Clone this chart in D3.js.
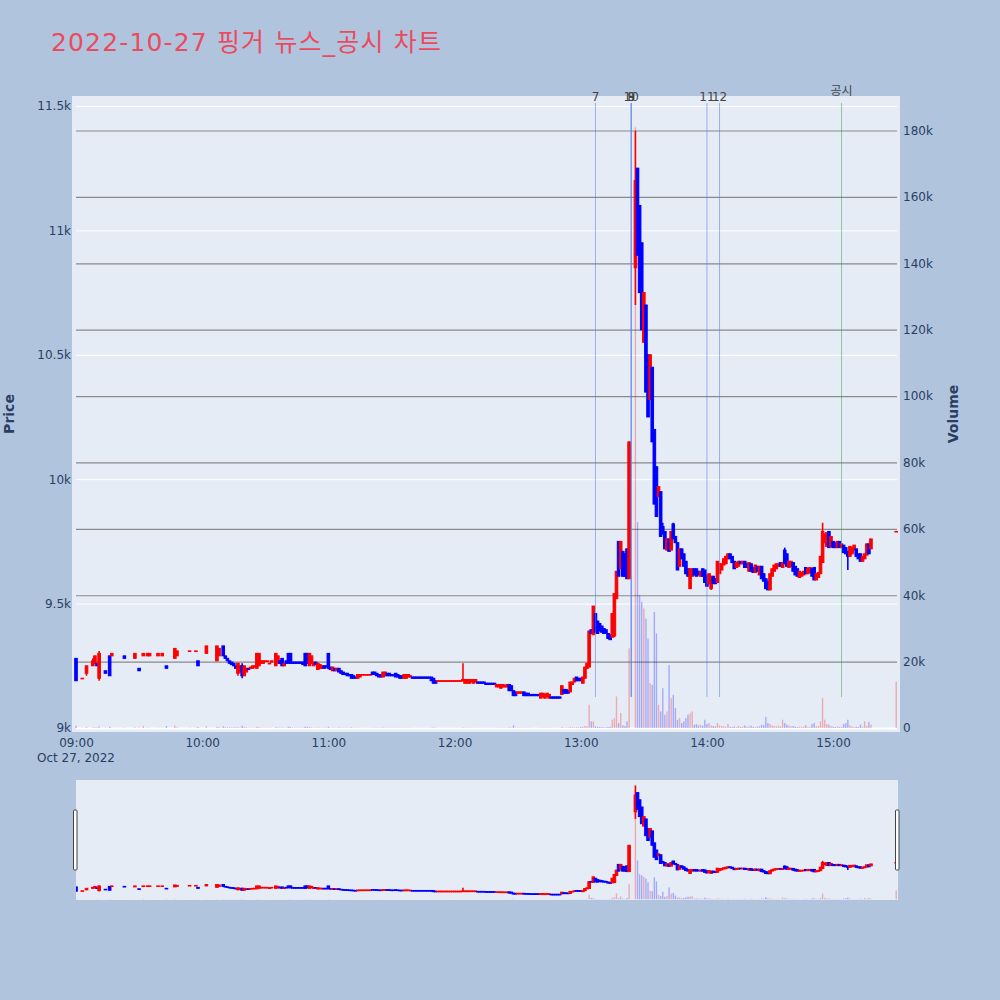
<!DOCTYPE html>
<html><head><meta charset="utf-8">
<script src="https://cdn.jsdelivr.net/npm/d3@7"></script>
<style>body{margin:0;background:#B0C4DE;}svg{display:block}</style>
</head><body>
<svg id="c" width="1000" height="1000"></svg>
<script>
// [time, open, high, low, close, volume]
const bars09 = [
["09:00",9280,9280,9190,9190,700],["09:03",9200,9200,9200,9200,100],["09:05",9220,9250,9210,9250,300],
["09:08",9250,9280,9250,9270,200],["09:09",9260,9290,9260,9290,200],["09:10",9260,9260,9250,9250,150],
["09:11",9200,9310,9190,9300,500],["09:14",9230,9230,9220,9220,100],["09:16",9290,9290,9210,9210,400],
["09:17",9290,9300,9290,9300,100],["09:23",9290,9290,9280,9280,100],["09:28",9280,9300,9280,9300,200],
["09:30",9240,9240,9230,9230,100],["09:32",9290,9300,9290,9300,600],["09:34",9290,9300,9290,9300,100],
["09:35",9290,9300,9290,9300,100],["09:39",9290,9300,9290,9300,100],["09:41",9290,9300,9290,9300,100],
["09:43",9250,9250,9240,9240,600],["09:47",9280,9320,9280,9320,700],["09:48",9290,9310,9290,9310,200],
["09:54",9310,9310,9310,9310,100],["09:57",9310,9310,9310,9310,100],["09:58",9270,9270,9250,9250,300]
];
const bars10 = [
["10:02",9300,9330,9300,9330,500],["10:07",9270,9330,9270,9330,400],["10:08",9290,9320,9290,9320,300],
["10:10",9330,9330,9290,9290,500],["10:11",9290,9290,9280,9280,200],["10:12",9280,9280,9270,9270,200],
["10:13",9270,9270,9260,9260,200],["10:14",9265,9265,9255,9255,200],["10:15",9260,9260,9250,9250,200],
["10:16",9250,9250,9240,9240,200],["10:17",9220,9260,9210,9260,300],["10:18",9225,9250,9225,9250,200],
["10:19",9250,9260,9200,9210,700],["10:20",9210,9250,9210,9250,300],["10:21",9225,9240,9225,9240,200],
["10:22",9240,9240,9235,9235,100],["10:23",9240,9245,9240,9245,100],["10:24",9240,9250,9240,9250,100],
["10:25",9245,9250,9245,9250,100],["10:26",9240,9300,9240,9300,400],["10:27",9250,9300,9250,9300,300],
["10:28",9260,9270,9260,9270,100],["10:29",9260,9270,9260,9270,100],["10:30",9270,9270,9270,9270,100],
["10:31",9270,9270,9270,9270,100],["10:32",9260,9260,9260,9260,100],["10:33",9265,9270,9265,9270,100],
["10:35",9250,9300,9250,9300,300],["10:36",9260,9290,9260,9290,200],["10:37",9270,9270,9260,9260,100],
["10:38",9280,9280,9250,9250,200],["10:39",9250,9260,9250,9260,100],["10:40",9270,9270,9260,9260,100],
["10:41",9300,9300,9260,9260,400],["10:42",9300,9300,9260,9260,300],["10:43",9265,9265,9260,9260,100],
["10:44",9265,9265,9260,9260,100],["10:45",9265,9265,9260,9260,100],["10:46",9265,9265,9260,9260,100],
["10:47",9265,9265,9260,9260,100],["10:48",9265,9265,9255,9255,100],["10:49",9300,9300,9250,9250,400],
["10:50",9300,9300,9260,9260,300],["10:51",9250,9300,9250,9300,400],["10:52",9260,9290,9260,9290,200],
["10:53",9250,9265,9250,9265,100],["10:54",9265,9265,9255,9255,100],["10:55",9235,9260,9235,9260,200],
["10:56",9240,9255,9240,9255,100],["10:57",9240,9250,9240,9250,100],["10:58",9250,9250,9240,9240,100],
["10:59",9250,9250,9245,9245,100]
];
const bars11 = [
["11:00",9300,9300,9240,9240,400],["11:01",9245,9245,9235,9235,100],["11:02",9230,9245,9230,9245,100],
["11:03",9240,9240,9230,9230,100],["11:04",9230,9240,9230,9240,100],["11:05",9240,9240,9225,9225,200],
["11:06",9230,9230,9220,9220,100],["11:07",9225,9225,9215,9215,100],["11:08",9220,9220,9215,9215,100],
["11:09",9220,9220,9210,9210,100],["11:10",9215,9215,9210,9210,100],["11:11",9215,9215,9200,9200,200],
["11:12",9210,9210,9200,9200,100],["11:13",9205,9205,9200,9200,100],["11:14",9200,9215,9200,9215,100],
["11:15",9205,9215,9205,9215,100],["11:16",9215,9215,9215,9215,50],["11:17",9215,9215,9215,9215,50],
["11:18",9215,9215,9215,9215,50],["11:19",9215,9215,9215,9215,50],["11:20",9215,9215,9215,9215,50],
["11:21",9225,9225,9215,9215,100],["11:22",9225,9225,9215,9215,100],["11:23",9220,9220,9210,9210,100],
["11:24",9215,9215,9205,9205,100],["11:25",9215,9215,9205,9205,100],["11:26",9205,9225,9205,9225,200],
["11:27",9210,9225,9210,9225,100],["11:28",9220,9220,9210,9210,100],["11:29",9220,9220,9210,9210,100],
["11:30",9215,9215,9210,9210,100],["11:31",9215,9215,9210,9210,100],["11:32",9220,9220,9205,9205,100],
["11:33",9215,9215,9205,9205,100],["11:34",9210,9210,9200,9200,100],["11:35",9210,9210,9200,9200,100],
["11:36",9200,9215,9200,9215,100],["11:37",9200,9215,9200,9215,100],["11:38",9205,9215,9205,9215,100],
["11:39",9205,9210,9205,9210,100],["11:40",9205,9205,9200,9200,50],["11:41",9205,9205,9200,9200,50],
["11:42",9205,9205,9200,9200,50],["11:43",9205,9205,9200,9200,50],["11:44",9205,9205,9200,9200,50],
["11:45",9205,9205,9200,9200,50],["11:46",9205,9205,9200,9200,50],["11:47",9205,9205,9200,9200,50],
["11:48",9205,9205,9200,9200,50],["11:49",9205,9205,9190,9190,100],["11:50",9200,9200,9180,9180,200],
["11:51",9190,9190,9180,9180,100],["11:52",9190,9190,9190,9190,50],["11:53",9190,9190,9190,9190,50],
["11:54",9190,9190,9190,9190,50],["11:55",9190,9190,9190,9190,50],["11:56",9190,9190,9190,9190,50],
["11:57",9190,9190,9190,9190,50],["11:58",9190,9190,9190,9190,50],["11:59",9190,9190,9190,9190,50]
];
const bars12 = [
["12:00",9190,9190,9190,9190,50],["12:01",9190,9190,9190,9190,50],["12:02",9190,9190,9190,9190,50],
["12:03",9190,9190,9190,9190,50],["12:04",9190,9260,9190,9195,200],["12:05",9180,9195,9180,9195,100],
["12:06",9180,9195,9180,9195,100],["12:07",9180,9195,9180,9195,100],["12:08",9185,9195,9185,9195,100],
["12:09",9180,9195,9180,9195,100],["12:10",9185,9195,9185,9195,100],["12:11",9185,9185,9180,9180,50],
["12:12",9185,9185,9180,9180,50],["12:13",9185,9185,9180,9180,50],["12:14",9185,9185,9180,9180,50],
["12:15",9180,9180,9175,9175,50],["12:16",9180,9180,9175,9175,50],["12:17",9180,9180,9175,9175,50],
["12:18",9180,9180,9175,9175,50],["12:19",9180,9180,9175,9175,50],["12:20",9165,9175,9165,9175,100],
["12:21",9165,9175,9165,9175,100],["12:22",9160,9175,9160,9175,100],["12:23",9165,9175,9165,9175,100],
["12:24",9165,9170,9165,9170,100],["12:25",9165,9175,9165,9175,100],["12:26",9175,9175,9150,9150,200],
["12:27",9170,9170,9150,9150,100],["12:28",9150,9150,9130,9130,800],["12:29",9145,9145,9130,9130,100],
["12:30",9140,9145,9140,9145,100],["12:31",9140,9145,9140,9145,100],["12:32",9140,9145,9140,9145,100],
["12:33",9145,9145,9130,9130,100],["12:34",9140,9140,9130,9130,100],["12:35",9140,9140,9130,9130,100],
["12:36",9135,9135,9130,9130,50],["12:37",9135,9135,9130,9130,50],["12:38",9135,9135,9130,9130,50],
["12:39",9135,9135,9130,9130,50],["12:40",9135,9135,9130,9130,50],["12:41",9120,9140,9120,9140,100],
["12:42",9125,9140,9125,9140,100],["12:43",9120,9135,9120,9135,100],["12:44",9125,9140,9125,9140,100],
["12:45",9120,9135,9120,9135,100],["12:46",9125,9125,9120,9120,50],["12:47",9125,9125,9120,9120,50],
["12:48",9125,9125,9120,9120,50],["12:49",9125,9125,9120,9120,50],["12:50",9125,9125,9120,9120,50],
["12:51",9135,9170,9135,9170,300],["12:52",9155,9155,9140,9140,100],["12:53",9155,9155,9140,9140,100],
["12:54",9150,9150,9140,9140,100],["12:55",9145,9185,9145,9185,300],["12:56",9175,9185,9175,9185,200],
["12:57",9185,9200,9185,9200,200],["12:58",9205,9205,9190,9190,200],["12:59",9200,9200,9190,9190,200]
];
const bars13 = [
["13:00",9200,9200,9190,9190,300],["13:01",9180,9205,9180,9205,400],["13:02",9200,9245,9200,9245,600],
["13:03",9240,9260,9240,9260,500],["13:04",9245,9390,9245,9390,7000],["13:05",9395,9395,9380,9380,2000],
["13:06",9375,9490,9375,9490,2000],["13:07",9460,9460,9385,9385,500],["13:08",9430,9430,9380,9380,400],
["13:09",9420,9420,9390,9390,300],["13:10",9410,9410,9385,9385,300],["13:11",9400,9400,9380,9380,200],
["13:12",9395,9395,9380,9380,200],["13:13",9380,9380,9360,9360,300],["13:14",9375,9375,9355,9355,400],
["13:15",9365,9460,9365,9460,2500],["13:16",9370,9540,9365,9540,3000],["13:17",9520,9630,9520,9630,9500],
["13:18",9750,9750,9610,9610,1500],["13:19",9640,9750,9640,9750,4500],["13:20",9710,9710,9610,9610,800],
["13:21",9700,9700,9610,9610,600],["13:22",9720,9720,9600,9600,2000],["13:23",9600,10150,9600,10150,24000],
["13:26",10850,11400,10700,11200,181000],["13:27",11250,11250,10900,10900,62000],["13:28",11100,11100,10750,10750,40000],
["13:29",10950,10950,10600,10600,38000],["13:30",10550,10750,10550,10750,36000],["13:31",10700,10700,10350,10350,33000],
["13:32",10500,10500,10250,10250,27000],["13:33",10320,10500,10320,10500,13500],["13:34",10450,10450,10150,10150,13000],
["13:35",10200,10200,9900,9900,35000],["13:36",10050,10050,9850,9850,28500],["13:37",9930,9970,9930,9970,7000],
["13:38",9950,9950,9770,9770,5000],["13:39",9810,9825,9780,9780,12000],["13:40",9790,9790,9720,9720,4000],
["13:41",9715,9760,9715,9760,5000],["13:42",9760,9760,9710,9710,19000],["13:43",9715,9790,9715,9790,9000],
["13:44",9820,9825,9760,9760,10000],["13:45",9770,9770,9745,9745,6000],["13:46",9745,9745,9635,9635,2500],
["13:47",9650,9720,9650,9720,3000],["13:48",9720,9720,9680,9680,1500],["13:49",9700,9700,9650,9650,2000],
["13:50",9670,9670,9620,9620,3000],["13:51",9640,9640,9610,9610,4000],["13:52",9560,9640,9560,9640,4500],
["13:53",9610,9640,9610,9640,5000],["13:54",9640,9640,9615,9615,1000],["13:55",9640,9640,9610,9610,1200],
["13:56",9630,9630,9615,9615,800],["13:57",9610,9630,9610,9630,1000],["13:58",9640,9640,9610,9610,700],
["13:59",9635,9635,9585,9585,2500]
];
const bars14 = [
["14:00",9615,9615,9570,9570,1200],["14:01",9580,9620,9580,9620,1500],["14:02",9560,9610,9555,9610,800],
["14:03",9610,9610,9580,9580,600],["14:04",9600,9600,9580,9580,500],["14:05",9585,9670,9585,9670,1500],
["14:06",9620,9660,9620,9660,800],["14:07",9635,9660,9635,9660,600],["14:08",9655,9680,9655,9680,500],
["14:09",9660,9690,9660,9690,400],["14:10",9680,9700,9680,9700,1200],["14:11",9700,9700,9680,9680,400],
["14:12",9690,9690,9665,9665,300],["14:13",9670,9670,9640,9640,500],["14:14",9645,9665,9645,9665,300],
["14:15",9650,9670,9650,9670,600],["14:16",9670,9670,9660,9660,300],["14:17",9660,9670,9660,9670,400],
["14:18",9670,9670,9645,9645,800],["14:19",9660,9660,9645,9645,300],["14:20",9630,9665,9630,9665,500],
["14:21",9660,9660,9630,9630,700],["14:22",9645,9645,9625,9625,400],["14:23",9625,9655,9625,9655,300],
["14:24",9650,9650,9630,9630,400],["14:25",9615,9650,9615,9650,600],["14:26",9650,9650,9600,9600,1000],
["14:27",9620,9620,9590,9590,800],["14:28",9600,9600,9560,9560,3300],["14:29",9590,9590,9555,9555,1500],
["14:30",9555,9620,9555,9620,1200],["14:31",9610,9640,9610,9640,800],["14:32",9630,9655,9630,9655,600],
["14:33",9640,9660,9640,9660,500],["14:34",9650,9660,9650,9660,700],["14:35",9665,9665,9650,9650,400],
["14:36",9645,9665,9645,9665,2500],["14:37",9715,9725,9660,9660,1500],["14:38",9700,9700,9650,9650,1000],
["14:39",9645,9670,9645,9670,700],["14:40",9650,9670,9650,9670,500],["14:41",9665,9665,9630,9630,600],
["14:42",9650,9650,9615,9615,400],["14:43",9640,9640,9610,9610,300],["14:44",9605,9630,9605,9630,400],
["14:45",9610,9625,9610,9625,300],["14:46",9615,9630,9615,9630,500],["14:47",9645,9645,9620,9620,800],
["14:48",9620,9640,9620,9640,300],["14:49",9625,9645,9625,9645,400],["14:50",9640,9640,9610,9610,1200],
["14:51",9645,9645,9595,9595,1500],["14:52",9595,9620,9595,9620,500],["14:53",9605,9625,9605,9625,600],
["14:54",9620,9690,9620,9690,2000],["14:55",9665,9825,9665,9790,9000],["14:56",9745,9780,9745,9780,2500],
["14:57",9730,9785,9730,9785,1200],["14:58",9790,9790,9725,9725,1000],["14:59",9730,9770,9730,9770,600]
];
const bars15 = [
["15:00",9750,9750,9725,9725,400],["15:01",9745,9745,9725,9725,300],["15:02",9725,9750,9725,9750,500],
["15:03",9750,9750,9725,9725,300],["15:04",9725,9740,9725,9740,400],["15:05",9735,9735,9705,9705,1200],
["15:06",9725,9725,9700,9700,1500],["15:07",9710,9710,9635,9690,2500],["15:08",9690,9730,9690,9730,800],
["15:09",9700,9725,9700,9725,500],["15:10",9715,9735,9715,9735,300],["15:11",9720,9720,9690,9690,400],
["15:12",9700,9700,9680,9680,300],["15:13",9700,9700,9670,9670,1000],["15:14",9670,9690,9670,9690,400],
["15:15",9680,9700,9680,9700,2000],["15:16",9695,9740,9695,9740,600],["15:17",9740,9740,9700,9700,1800],
["15:18",9720,9760,9720,9760,1000],["15:30",9790,9790,9790,9790,14000]
];
const newsTimes = ["13:07","13:24","13:24","13:24","14:00","14:06"];
const newsLabels = ["7","8","9","10","11","12"];
const disclosureTimes = ["15:04"];
const disclosureLabels = ["공시"];
const priceTicks = [9000,9500,10000,10500,11000,11500];
const volumeTicks = [0,20000,40000,60000,80000,100000,120000,140000,160000,180000];
const hourTicks = ["09:00","10:00","11:00","12:00","13:00","14:00","15:00"];
const titleText = "2022-10-27 핑거 뉴스_공시 차트";

const parseT = s => { const [h,m] = s.split(":").map(Number); return new Date(2022,9,27,h,m); };
const data = [].concat(bars09,bars10,bars11,bars12,bars13,bars14,bars15)
  .map(r => ({t:parseT(r[0]), o:r[1], h:r[2], l:r[3], c:r[4], v:r[5]}));
const col = d => d.c >= d.o ? "#FF0000" : "#0000FF";
const FONT = "'DejaVu Sans', Verdana, 'Noto Sans CJK KR', sans-serif";
const TXT = "#2a3f5f";

const svg = d3.select("#c");
svg.append("rect").attr("width",1000).attr("height",1000).attr("fill","#B0C4DE");

const x = d3.scaleTime().domain([parseT("09:00"), parseT("15:30")]).range([76, 896.2]);
const y = d3.scaleLinear().domain([8984, 11540]).range([732, 96]);
const yv = d3.scaleLinear().domain([-1200, 190400]).range([732, 96]);

svg.append("rect").attr("x",72).attr("y",96).attr("width",828).attr("height",636).attr("fill","#E5ECF6");
const defs = svg.append("defs");
defs.append("clipPath").attr("id","clipMain").append("rect").attr("x",72).attr("y",96).attr("width",828).attr("height",636);
defs.append("clipPath").attr("id","clipSlider").append("rect").attr("x",76).attr("y",780).attr("width",822).attr("height",120);

const gy = svg.append("g").attr("transform","translate(76,0)")
  .call(d3.axisLeft(y).tickValues(priceTicks).tickSize(-821).tickPadding(5).tickFormat(d3.format("~s")));
gy.select(".domain").remove();
gy.selectAll(".tick line").attr("stroke","#fff").attr("stroke-width",1);
gy.selectAll(".tick text").attr("fill",TXT).style("font-family",FONT).style("font-size","12px");

const gv = svg.append("g").attr("transform","translate(897,0)")
  .call(d3.axisRight(yv).tickValues(volumeTicks).tickSize(-821).tickPadding(6).tickFormat(d3.format("~s")));
gv.select(".domain").remove();
gv.selectAll(".tick line").attr("stroke", d => d === 0 ? "#fff" : "#8a8a8a").attr("stroke-width", d => d === 0 ? 2 : 1.2);
gv.selectAll(".tick text").attr("fill",TXT).style("font-family",FONT).style("font-size","12px");

const gx = svg.append("g").attr("transform","translate(0,732)")
  .call(d3.axisBottom(x).tickValues(hourTicks.map(parseT)).tickSize(0).tickPadding(6).tickFormat(d3.timeFormat("%H:%M")));
gx.select(".domain").remove();
gx.selectAll(".tick text").attr("fill",TXT).style("font-family",FONT).style("font-size","12px");
svg.append("text").attr("x", x(parseT("09:00"))).attr("y",762).attr("text-anchor","middle")
  .attr("fill",TXT).style("font-family",FONT).style("font-size","12px").text("Oct 27, 2022");

svg.append("text").attr("transform","translate(14,414) rotate(-90)").attr("text-anchor","middle")
  .attr("fill",TXT).style("font-family",FONT).style("font-size","14px").style("font-weight","bold").text("Price");
svg.append("text").attr("transform","translate(958,414) rotate(-90)").attr("text-anchor","middle")
  .attr("fill",TXT).style("font-family",FONT).style("font-size","14px").style("font-weight","bold").text("Volume");

function drawSeries(g, ys, yvs) {
  g.append("g").selectAll("rect").data(data).join("rect")
    .attr("x", d => x(d.t) - 0.7).attr("width", 1.4)
    .attr("y", d => yvs(d.v)).attr("height", d => yvs(0) - yvs(d.v))
    .attr("fill", col).attr("fill-opacity", 0.28);
  g.append("g").selectAll("line").data(data).join("line")
    .attr("x1", d => x(d.t)).attr("x2", d => x(d.t))
    .attr("y1", d => ys(d.h)).attr("y2", d => ys(d.l))
    .attr("stroke", col).attr("stroke-width", 1.6);
  g.append("g").selectAll("rect").data(data).join("rect")
    .attr("x", d => x(d.t) - 1.3).attr("width", 2.6)
    .attr("y", d => ys(Math.max(d.o, d.c)))
    .attr("height", d => Math.max(0.6, ys(Math.min(d.o, d.c)) - ys(Math.max(d.o, d.c))))
    .attr("fill", col).attr("stroke", col).attr("stroke-width", 1);
}
drawSeries(svg.append("g").attr("clip-path","url(#clipMain)"), y, yv);

const sh = svg.append("g");
newsTimes.forEach((t,i) => {
  sh.append("line").attr("x1",x(parseT(t))).attr("x2",x(parseT(t))).attr("y1",103).attr("y2",697)
    .attr("stroke","rgb(90,125,230)").attr("stroke-opacity",0.55).attr("stroke-width",1);
  sh.append("text").attr("x",x(parseT(t))).attr("y",101).attr("text-anchor","middle")
    .attr("fill","#444").style("font-family",FONT).style("font-size","12px").text(newsLabels[i]);
});
disclosureTimes.forEach((t,i) => {
  sh.append("line").attr("x1",x(parseT(t))).attr("x2",x(parseT(t))).attr("y1",103).attr("y2",697)
    .attr("stroke","rgb(40,150,60)").attr("stroke-opacity",0.45).attr("stroke-width",1);
  sh.append("text").attr("x",x(parseT(t))).attr("y",95).attr("text-anchor","middle")
    .attr("fill","#444").style("font-family",FONT).style("font-size","12px").text(disclosureLabels[i]);
});

svg.append("rect").attr("x",76).attr("y",780).attr("width",822).attr("height",120).attr("fill","#E5ECF6");
const ys2 = d3.scaleLinear().domain([9006, 11514]).range([900, 780]);
const yv2 = d3.scaleLinear().domain([-1200, 190400]).range([900, 780]);
drawSeries(svg.append("g").attr("clip-path","url(#clipSlider)"), ys2, yv2);
[73.5, 895.5].forEach(hx => {
  svg.append("rect").attr("x",hx).attr("y",810).attr("width",3.5).attr("height",60).attr("rx",1)
    .attr("fill","#fff").attr("stroke","#444").attr("stroke-width",1);
});

svg.append("text").attr("x",51).attr("y",51).attr("fill","rgb(235,75,95)")
  .attr("textLength",390).attr("lengthAdjust","spacing")
  .style("font-family","'DejaVu Sans', Verdana, 'Noto Sans CJK KR', sans-serif").style("font-size","25px").text(titleText);
</script>
</body></html>
